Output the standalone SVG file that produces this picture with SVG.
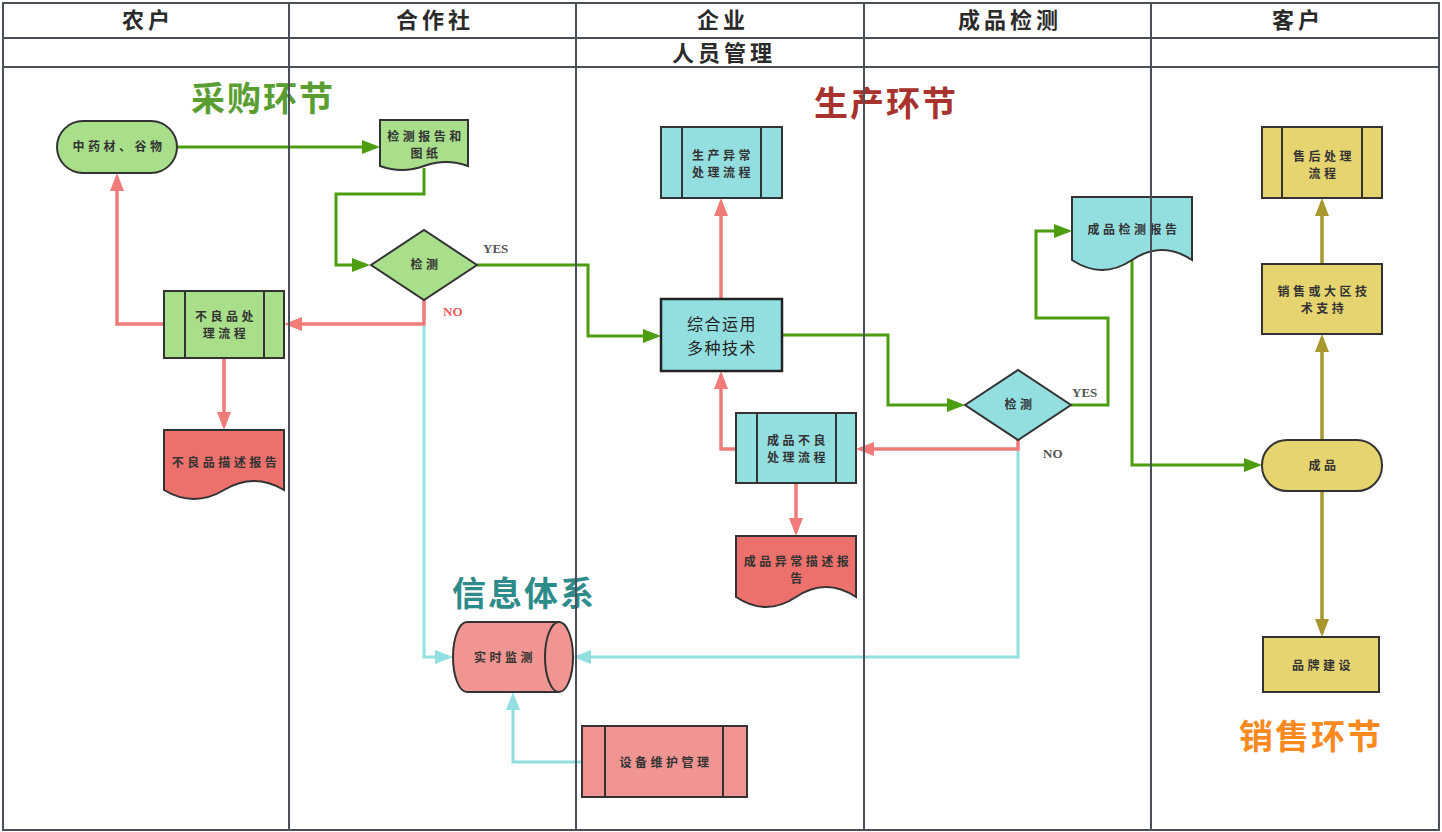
<svg xmlns="http://www.w3.org/2000/svg" width="1442" height="832" viewBox="0 0 1442 832">
<style>
.grid{stroke:#4b5058;stroke-width:2;fill:none}
.hdr{font-family:"Noto Sans CJK SC","Noto Sans CJK TC",sans-serif;font-weight:bold;font-size:22px;fill:#2a2a2a;text-anchor:middle;letter-spacing:4px}
.phase{font-family:"Noto Sans CJK SC",sans-serif;font-weight:bold;font-size:34px;text-anchor:middle;letter-spacing:2px}
.nt{font-family:"Noto Sans CJK SC",sans-serif;font-weight:bold;font-size:12px;fill:#333;text-anchor:middle;letter-spacing:3.5px}
.big{font-family:"Noto Sans CJK SC",sans-serif;font-size:16px;fill:#222;text-anchor:middle;letter-spacing:1.5px}
.lbl{font-family:"Liberation Serif",serif;font-weight:bold;font-size:13px}
.shp{stroke:#333;stroke-width:2}
.g{fill:#a9df8b}.t{fill:#93dfe0}.y{fill:#e6d470}.r{fill:#ec716d}.p{fill:#f19592}
.cg{stroke:#4c9e10;stroke-width:3;fill:none;marker-end:url(#ag)}
.cr{stroke:#f07b79;stroke-width:3.5;fill:none;marker-end:url(#ar)}
.cc{stroke:#91dfe0;stroke-width:3;fill:none;marker-end:url(#ac)}
.co{stroke:#a8962f;stroke-width:3.5;fill:none;marker-end:url(#ao)}
</style>
<defs>
<marker id="ag" markerUnits="userSpaceOnUse" viewBox="0 0 18 14" markerWidth="18" markerHeight="14" refX="14" refY="7" orient="auto"><path d="M0,0 L18,7 L0,14 z" fill="#4c9e10"/></marker>
<marker id="ar" markerUnits="userSpaceOnUse" viewBox="0 0 18 14" markerWidth="18" markerHeight="14" refX="14" refY="7" orient="auto"><path d="M0,0 L18,7 L0,14 z" fill="#f07b79"/></marker>
<marker id="ac" markerUnits="userSpaceOnUse" viewBox="0 0 18 14" markerWidth="18" markerHeight="14" refX="14" refY="7" orient="auto"><path d="M0,0 L18,7 L0,14 z" fill="#91dfe0"/></marker>
<marker id="ao" markerUnits="userSpaceOnUse" viewBox="0 0 18 14" markerWidth="18" markerHeight="14" refX="14" refY="7" orient="auto"><path d="M0,0 L18,7 L0,14 z" fill="#a8962f"/></marker>
</defs>
<rect x="0" y="0" width="1442" height="832" fill="#ffffff"/>

<g id="headers">
<text class="hdr" x="148" y="28">农户</text>
<text class="hdr" x="435" y="28">合作社</text>
<text class="hdr" x="723" y="28">企业</text>
<text class="hdr" x="1010" y="28">成品检测</text>
<text class="hdr" x="1298" y="28">客户</text>
<text class="hdr" x="724" y="61">人员管理</text>
</g>

<g id="phases">
<text class="phase" x="263" y="111" fill="#5a9e32">采购环节</text>
<text class="phase" x="886" y="116" fill="#a8322d">生产环节</text>
<text class="phase" x="524" y="606" fill="#2e8b8b">信息体系</text>
<text class="phase" x="1311" y="749" fill="#fb8a1e" font-size="37" letter-spacing="3">销售环节</text>
</g>

<g id="connectors">
<path class="cg" d="M177,147 H376"/>
<path class="cg" d="M424,168 V194 H336 V265 H366"/>
<path class="cg" d="M477,265 H588 V336 H657"/>
<path class="cg" d="M782,335 H888 V405 H961"/>
<path class="cg" d="M1071,405 H1108 V318 H1036 V231 H1068"/>
<path class="cg" d="M1132,260 V465 H1258"/>
<path class="cr" d="M424,300 V324 H288"/>
<path class="cr" d="M164,324 H117 V177"/>
<path class="cr" d="M224,358 V426"/>
<path class="cr" d="M721,299 V202"/>
<path class="cr" d="M1018,440 V449 H860"/>
<path class="cr" d="M736,449 H721 V375"/>
<path class="cr" d="M796,483 V532"/>
<path class="cc" d="M424,326 V657 H449"/>
<path class="cc" d="M1018,451 V657 H577"/>
<path class="cc" d="M582,762 H513 V696"/>
<path class="co" d="M1322,440 V338"/>
<path class="co" d="M1322,264 V202"/>
<path class="co" d="M1322,491 V633"/>
<text class="lbl" x="483" y="253" fill="#555">YES</text>
<text class="lbl" x="443" y="316" fill="#f25a58">NO</text>
<text class="lbl" x="1072" y="397" fill="#555">YES</text>
<text class="lbl" x="1043" y="458" fill="#555">NO</text>
</g>

<g id="n-zhongyaocai">
<rect class="shp g" x="57" y="121" width="120" height="52" rx="26"/>
<text class="nt" x="119" y="151">中药材、谷物</text>
</g>
<g id="n-jiancebaogao">
<path class="shp g" d="M380,120 H468 V166 Q446,158 424,166 Q402,174 380,166 Z"/>
<text class="nt" x="426" y="141">检测报告和</text>
<text class="nt" x="426" y="158">图纸</text>
</g>
<g id="n-jiance1">
<polygon class="shp g" points="371,265 424,230 477,265 424,300"/>
<text class="nt" x="426" y="269">检测</text>
</g>
<g id="n-buliangchuli">
<rect class="shp g" x="164" y="291" width="120" height="67"/>
<line class="shp" x1="185" y1="291" x2="185" y2="358"/>
<line class="shp" x1="264" y1="291" x2="264" y2="358"/>
<text class="nt" x="226" y="321">不良品处</text>
<text class="nt" x="226" y="338">理流程</text>
</g>
<g id="n-buliangmiaoshu">
<path class="shp r" d="M164,430 H284 V490 Q254,472 224,490 Q194,508 164,490 Z"/>
<text class="nt" x="226" y="467">不良品描述报告</text>
</g>
<g id="n-shengchanyichang">
<rect class="shp t" x="661" y="127" width="121" height="71"/>
<line class="shp" x1="682" y1="127" x2="682" y2="198"/>
<line class="shp" x1="761" y1="127" x2="761" y2="198"/>
<text class="nt" x="723" y="160">生产异常</text>
<text class="nt" x="723" y="177">处理流程</text>
</g>
<g id="n-zonghe">
<rect class="t" x="661" y="299" width="121" height="72" stroke="#222" stroke-width="2.5"/>
<text class="big" x="722" y="330">综合运用</text>
<text class="big" x="722" y="354">多种技术</text>
</g>
<g id="n-chengpinbuliang">
<rect class="shp t" x="736" y="413" width="120" height="70"/>
<line class="shp" x1="757" y1="413" x2="757" y2="483"/>
<line class="shp" x1="836" y1="413" x2="836" y2="483"/>
<text class="nt" x="798" y="445">成品不良</text>
<text class="nt" x="798" y="462">处理流程</text>
</g>
<g id="n-chengpinyichang">
<path class="shp r" d="M736,536 H856 V597 Q826,577 796,597 Q766,617 736,597 Z"/>
<text class="nt" x="798" y="566">成品异常描述报</text>
<text class="nt" x="798" y="583">告</text>
</g>
<g id="n-jiance2">
<polygon class="shp t" points="965,405 1018,370 1071,405 1018,440"/>
<text class="nt" x="1020" y="409">检测</text>
</g>
<g id="n-chengpinjiance">
<path class="shp t" d="M1072,197 H1192 V260 Q1162,240 1132,260 Q1102,280 1072,260 Z"/>
<text class="nt" x="1134" y="234">成品检测报告</text>
</g>
<g id="n-shouhou">
<rect class="shp y" x="1262" y="127" width="120" height="71"/>
<line class="shp" x1="1282" y1="127" x2="1282" y2="198"/>
<line class="shp" x1="1362" y1="127" x2="1362" y2="198"/>
<text class="nt" x="1324" y="161">售后处理</text>
<text class="nt" x="1324" y="178">流程</text>
</g>
<g id="n-xiaoshou">
<rect class="shp y" x="1262" y="264" width="120" height="70"/>
<text class="nt" x="1324" y="296">销售或大区技</text>
<text class="nt" x="1324" y="313">术支持</text>
</g>
<g id="n-chengpin">
<rect class="shp y" x="1262" y="440" width="120" height="51" rx="25"/>
<text class="nt" x="1324" y="470">成品</text>
</g>
<g id="n-pinpai">
<rect class="shp y" x="1263" y="637" width="116" height="55"/>
<text class="nt" x="1323" y="670">品牌建设</text>
</g>
<g id="n-shishijiance">
<path class="shp p" d="M467,622 H559 A14,35 0 0 1 559,692 H467 A14,35 0 0 1 467,622 Z"/>
<path class="shp" fill="none" d="M559,622 A14,35 0 0 0 559,692"/>
<text class="nt" x="505" y="662">实时监测</text>
</g>
<g id="n-shebei">
<rect class="shp p" x="582" y="726" width="165" height="71"/>
<line class="shp" x1="605" y1="726" x2="605" y2="797"/>
<line class="shp" x1="723" y1="726" x2="723" y2="797"/>
<text class="nt" x="666" y="767">设备维护管理</text>
</g>

<g id="table">
<rect class="grid" x="3" y="3" width="1436" height="827"/>
<line class="grid" x1="3" y1="38" x2="1439" y2="38"/>
<line class="grid" x1="3" y1="67" x2="1439" y2="67"/>
<line class="grid" x1="289" y1="3" x2="289" y2="830"/>
<line class="grid" x1="576" y1="3" x2="576" y2="830"/>
<line class="grid" x1="864" y1="3" x2="864" y2="830"/>
<line class="grid" x1="1151" y1="3" x2="1151" y2="830"/>
</g>
</svg>
